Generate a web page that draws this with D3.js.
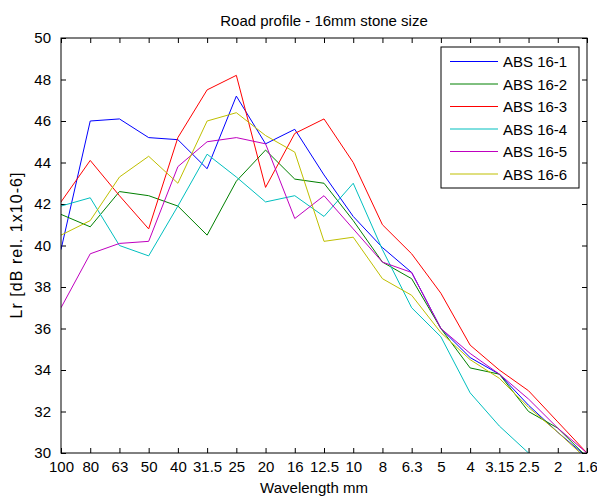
<!DOCTYPE html>
<html>
<head>
<meta charset="utf-8">
<script src="https://cdn.jsdelivr.net/npm/d3@7"></script>
<style>
html,body{margin:0;padding:0;background:#fff;}
svg{display:block;font-family:"Liberation Sans",Arial,sans-serif;}
</style>
</head>
<body>
<svg id="chart" width="597" height="498"></svg>
<script>
const categories = ["100","80","63","50","40","31.5","25","20","16","12.5","10","8","6.3","5","4","3.15","2.5","2","1.6"];
const yTicks = [30,32,34,36,38,40,42,44,46,48,50];
const seriesNames = ["ABS 16-1","ABS 16-2","ABS 16-3","ABS 16-4","ABS 16-5","ABS 16-6"];
const abs16_1 = [39.8,46.0,46.1,45.2,45.1,43.7,47.2,44.9,45.6,43.4,41.4,39.9,38.7,36.0,34.6,33.8,32.3,31.0,29.8];
const abs16_2 = [41.5,40.9,42.6,42.4,41.9,40.5,43.1,44.6,43.2,43.0,41.2,39.2,38.4,36.0,34.1,33.8,32.0,31.2,29.8];
const abs16_3 = [42.1,44.1,42.4,40.8,45.2,47.5,48.2,42.8,45.4,46.1,44.0,41.0,39.6,37.7,35.2,34.0,33.0,31.5,30.0];
const abs16_4 = [41.9,42.3,40.0,39.5,41.9,44.4,43.3,42.1,42.4,41.4,43.0,39.8,37.0,35.6,32.9,31.3,30.0,29.0,28.2];
const abs16_5 = [37.0,39.6,40.1,40.2,43.8,45.0,45.2,44.9,41.3,42.4,40.8,39.2,38.7,36.0,34.8,33.8,32.6,31.2,30.0];
const abs16_6 = [40.5,41.2,43.3,44.3,43.0,46.0,46.4,45.3,44.5,40.2,40.4,38.4,37.6,35.8,34.5,33.6,32.2,31.0,29.7];
const seriesValues = [abs16_1,abs16_2,abs16_3,abs16_4,abs16_5,abs16_6];
const colors = ["#0000FF","#008000","#FF0000","#00BFBF","#BF00BF","#BFBF00"];

const svg = d3.select("#chart");
const L = 61, R = 587, T = 38, B = 453;
const x = d3.scalePoint().domain(categories).range([L, R]).padding(0);
const y = d3.scaleLinear().domain([30, 50]).range([B, T]);

svg.append("rect").attr("width",597).attr("height",498).attr("fill","#fff");

svg.append("defs").append("clipPath").attr("id","clip")
  .append("rect").attr("x",L).attr("y",T).attr("width",R-L).attr("height",B-T);

const fs = "15px";
const gBottom = svg.append("g").attr("transform",`translate(0,${B})`)
  .call(d3.axisBottom(x).tickSizeInner(-5).tickSizeOuter(0).tickPadding(8));
const gTop = svg.append("g").attr("transform",`translate(0,${T})`)
  .call(d3.axisTop(x).tickSizeInner(-5).tickSizeOuter(0).tickFormat(""));
const gLeft = svg.append("g").attr("transform",`translate(${L},0)`)
  .call(d3.axisLeft(y).tickValues(yTicks).tickSizeInner(-5).tickSizeOuter(0).tickPadding(10));
const gRight = svg.append("g").attr("transform",`translate(${R},0)`)
  .call(d3.axisRight(y).tickValues(yTicks).tickSizeInner(-5).tickSizeOuter(0).tickFormat(""));
[gBottom,gTop,gLeft,gRight].forEach(g=>{
  g.select(".domain").remove();
  g.selectAll("line").attr("stroke","#000");
  g.selectAll("text").attr("fill","#000").style("font-size",fs).style("font-family","'Liberation Sans',Arial,sans-serif");
});

const line = d3.line().x((d,i)=>x(categories[i])).y(d=>y(d));
const plot = svg.append("g").attr("clip-path","url(#clip)");
seriesValues.forEach((vals,k)=>{
  plot.append("path").datum(vals).attr("d",line)
    .attr("fill","none").attr("stroke",colors[k]).attr("stroke-width",1);
});

svg.append("rect").attr("x",L).attr("y",T).attr("width",R-L).attr("height",B-T)
  .attr("fill","none").attr("stroke","#000").attr("stroke-width",1);

svg.append("text").attr("x",(L+R)/2).attr("y",26).attr("text-anchor","middle")
  .style("font-size","15px").text("Road profile - 16mm stone size");
svg.append("text").attr("x",(L+R)/2 - 10).attr("y",493).attr("text-anchor","middle")
  .style("font-size","15px").text("Wavelength mm");
svg.append("text").attr("transform",`translate(22,${(T+B)/2}) rotate(-90)`).attr("text-anchor","middle")
  .attr("textLength",146).attr("lengthAdjust","spacing")
  .style("font-size","16px").text("Lr [dB rel. 1x10-6]");

const lg = svg.append("g");
lg.append("rect").attr("x",441).attr("y",47).attr("width",138).attr("height",141)
  .attr("fill","#fff").attr("stroke","#000").attr("stroke-width",1);
seriesNames.forEach((n,k)=>{
  const cy = 61.5 + k*22.5;
  lg.append("line").attr("x1",450).attr("x2",498).attr("y1",cy).attr("y2",cy)
    .attr("stroke",colors[k]).attr("stroke-width",1);
  lg.append("text").attr("x",503).attr("y",cy+5.5).style("font-size","15px").text(n);
});
</script>
</body>
</html>
